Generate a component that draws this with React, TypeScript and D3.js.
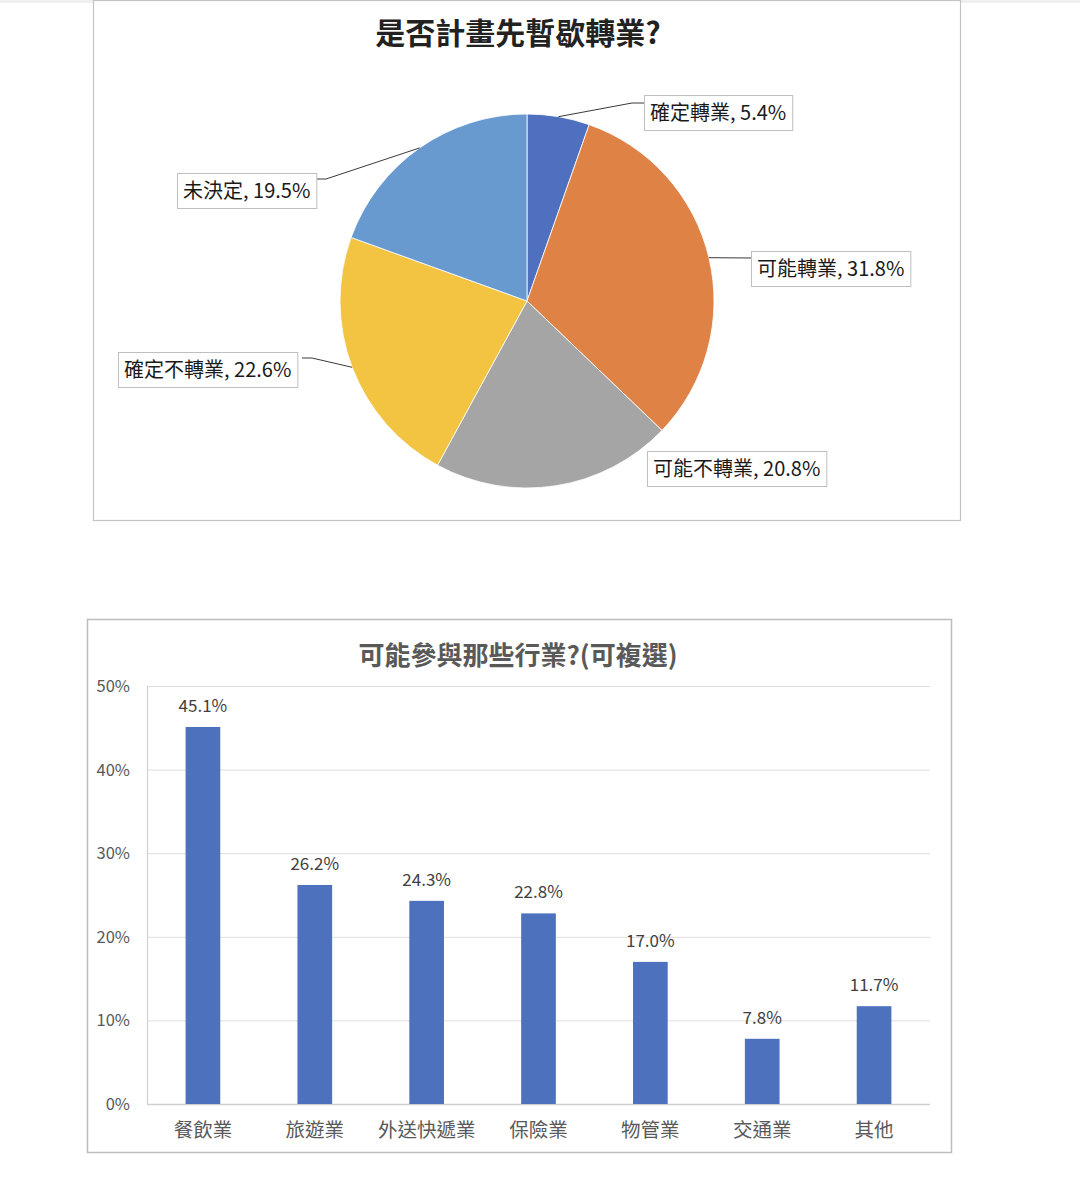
import React, { useEffect, useRef } from 'react';
import * as d3 from 'd3';

// pie: 是否計畫先暫歇轉業?
const pieTitle = '是否計畫先暫歇轉業?';
const pieLabels = ['確定轉業', '可能轉業', '可能不轉業', '確定不轉業', '未決定'];
const pieValues = [5.4, 31.8, 20.8, 22.6, 19.5];
const pieColors = ['#4E70BE', '#DE8245', '#A5A5A5', '#F3C342', '#6899CF'];

// bars: 可能參與那些行業?(可複選)
const barTitle = '可能參與那些行業?(可複選)';
const barCategories = ['餐飲業', '旅遊業', '外送快遞業', '保險業', '物管業', '交通業', '其他'];
const barValues = [45.1, 26.2, 24.3, 22.8, 17.0, 7.8, 11.7];
const yTicks = [0, 10, 20, 30, 40, 50];

// where each pie data label box sits, and the elbow of its leader line
const labelLayout = [
  { x: 644, y: 95, elbow: [632, 103], end: [644, 103] },
  { x: 751, y: 251, elbow: null, end: [751, 258] },
  { x: 647, y: 451, elbow: null, end: null },
  { x: 118, y: 352, elbow: [312, 358], end: [302, 358] },
  { x: 177, y: 173, elbow: [326, 179], end: [317, 179] },
];

const FONT = '"Noto Sans CJK TC", "Noto Sans", sans-serif';

const App: React.FC = () => {
  const svgRef = useRef<SVGSVGElement>(null);

  useEffect(() => {
    if (!svgRef.current) return;
    const svg = d3.select(svgRef.current);
    svg.selectAll('*').remove();

    // page top strip
    svg.append('rect').attr('x', 0).attr('y', 0).attr('width', 1080).attr('height', 3).attr('fill', '#efefef');

    // ---------- pie panel ----------
    svg.append('rect')
      .attr('x', 93.5).attr('y', 0.5).attr('width', 867).attr('height', 520)
      .attr('fill', '#fff').attr('stroke', '#C4C4C4').attr('stroke-width', 1.2);

    svg.append('text')
      .attr('x', 518).attr('y', 44)
      .attr('text-anchor', 'middle')
      .attr('font-family', FONT).attr('font-size', 30).attr('font-weight', 'bold')
      .attr('fill', '#222')
      .text(pieTitle);

    const cx = 527, cy = 301, r = 187;
    const pie = d3.pie<number>().sort(null).value(d => d);
    const arcs = pie(pieValues);
    const arc = d3.arc<d3.PieArcDatum<number>>().innerRadius(0).outerRadius(r);

    const g = svg.append('g').attr('transform', `translate(${cx},${cy})`);
    g.selectAll('path')
      .data(arcs)
      .enter()
      .append('path')
      .attr('d', arc)
      .attr('fill', (_d, i) => pieColors[i])
      .attr('stroke', '#fff')
      .attr('stroke-width', 0.8);

    // leader lines
    arcs.forEach((a, i) => {
      const lay = labelLayout[i];
      if (!lay.end) return;
      const mid = (a.startAngle + a.endAngle) / 2;
      const start: [number, number] = [cx + Math.sin(mid) * r, cy - Math.cos(mid) * r];
      const pts: [number, number][] = [start];
      if (lay.elbow) pts.push(lay.elbow as [number, number]);
      pts.push(lay.end as [number, number]);
      svg.append('path')
        .attr('d', d3.line()(pts))
        .attr('fill', 'none')
        .attr('stroke', '#3a3a3a')
        .attr('stroke-width', 1);
    });

    // label boxes
    pieLabels.forEach((name, i) => {
      const lay = labelLayout[i];
      const lg = svg.append('g');
      const rect = lg.append('rect')
        .attr('x', lay.x + 0.5).attr('y', lay.y + 0.5).attr('height', 35)
        .attr('fill', '#fff').attr('stroke', '#BFBFBF').attr('stroke-width', 1);
      const t = lg.append('text')
        .attr('x', lay.x + 6).attr('y', lay.y + 25)
        .attr('font-family', FONT).attr('font-size', 20)
        .attr('fill', '#1a1a1a')
        .text(`${name}, ${pieValues[i].toFixed(1)}%`);
      const w = (t.node() as SVGTextElement).getComputedTextLength();
      rect.attr('width', w + 12);
    });

    // ---------- bar panel ----------
    svg.append('rect')
      .attr('x', 87.5).attr('y', 619.5).attr('width', 864).attr('height', 533)
      .attr('fill', '#fff').attr('stroke', '#BDBDBD').attr('stroke-width', 1.5);

    svg.append('text')
      .attr('x', 518).attr('y', 665)
      .attr('text-anchor', 'middle')
      .attr('font-family', FONT).attr('font-size', 26).attr('font-weight', 'bold')
      .attr('fill', '#595959')
      .text(barTitle);

    const left = 147, right = 930, top = 686, bottom = 1104;
    const x = d3.scaleBand<string>().domain(barCategories).range([left, right]).paddingInner(0.69).paddingOuter(0.345);
    const y = d3.scaleLinear().domain([0, 50]).range([bottom, top]);

    // grid
    svg.append('g')
      .selectAll('line')
      .data(yTicks)
      .enter()
      .append('line')
      .attr('x1', left).attr('x2', right)
      .attr('y1', d => y(d) + 0.5).attr('y2', d => y(d) + 0.5)
      .attr('stroke', d => (d === 0 ? '#CFCFCF' : '#DEDEDE'))
      .attr('stroke-width', d => (d === 0 ? 1.5 : 1));

    // y axis line
    svg.append('line')
      .attr('x1', left + 0.5).attr('x2', left + 0.5).attr('y1', top).attr('y2', bottom)
      .attr('stroke', '#CFCFCF').attr('stroke-width', 1.2);

    svg.append('g')
      .selectAll('text')
      .data(yTicks)
      .enter()
      .append('text')
      .attr('x', 130).attr('y', d => y(d) + 6)
      .attr('text-anchor', 'end')
      .attr('font-family', FONT).attr('font-size', 16.5)
      .attr('fill', '#595959')
      .text(d => `${d}%`);

    // bars
    svg.append('g')
      .selectAll('rect')
      .data(barValues)
      .enter()
      .append('rect')
      .attr('x', (_d, i) => x(barCategories[i]) as number)
      .attr('y', d => y(d))
      .attr('width', x.bandwidth())
      .attr('height', d => bottom - y(d))
      .attr('fill', '#4E71BE');

    // value labels
    svg.append('g')
      .selectAll('text')
      .data(barValues)
      .enter()
      .append('text')
      .attr('x', (_d, i) => (x(barCategories[i]) as number) + x.bandwidth() / 2)
      .attr('y', d => y(d) - 15)
      .attr('text-anchor', 'middle')
      .attr('font-family', FONT).attr('font-size', 17)
      .attr('fill', '#404040')
      .text(d => `${d.toFixed(1)}%`);

    // category labels
    svg.append('g')
      .selectAll('text')
      .data(barCategories)
      .enter()
      .append('text')
      .attr('x', d => (x(d) as number) + x.bandwidth() / 2)
      .attr('y', 1137)
      .attr('text-anchor', 'middle')
      .attr('font-family', FONT).attr('font-size', 19.5)
      .attr('fill', '#595959')
      .text(d => d);
  }, []);

  return (
    <div style={{ position: 'absolute', left: 0, top: 0, width: 1080, height: 1185, background: '#fff' }}>
      <svg ref={svgRef} width={1080} height={1185} style={{ display: 'block' }} />
    </div>
  );
};

export default App;
